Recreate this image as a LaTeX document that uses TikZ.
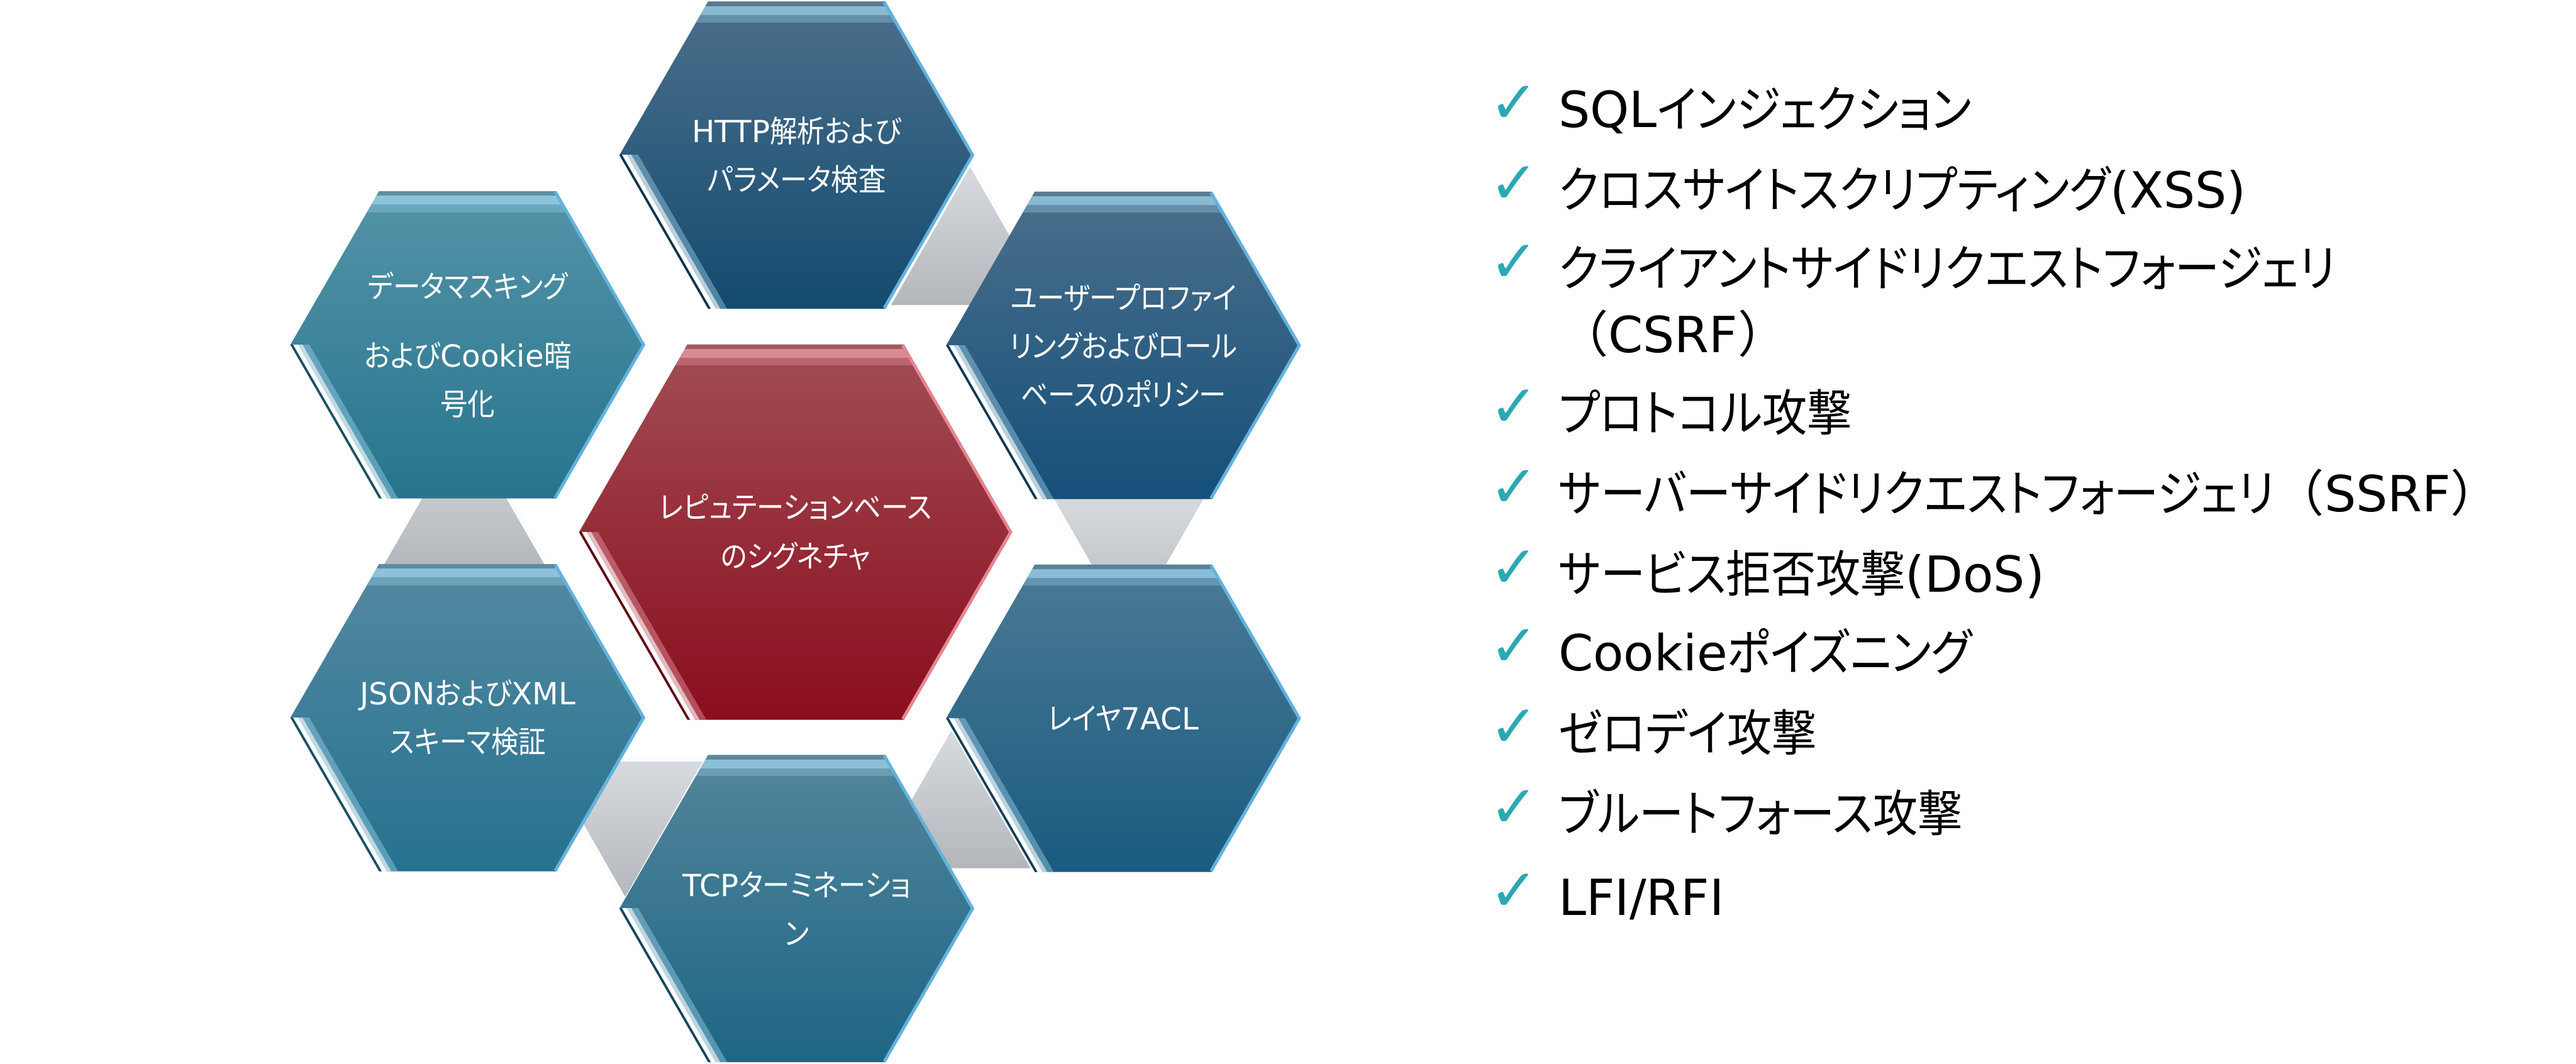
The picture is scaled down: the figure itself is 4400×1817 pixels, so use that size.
\documentclass[tikz,border=0pt]{standalone}
\usepackage{fontspec}
\usetikzlibrary{calc}
\setmainfont{DejaVu Sans}
\newfontfamily\jp[RawFeature=+palt,FakeStretch=0.9]{Noto Sans CJK JP}
\newfontfamily\jpw{Noto Sans CJK JP}
\newcommand\J[1]{{\jp #1}}
\newcommand\JW[1]{{\jpw #1}}
\definecolor{httpT}{HTML}{4C6F8B}\definecolor{httpB}{HTML}{134B6F}
\definecolor{userT}{HTML}{4B6F8B}\definecolor{userB}{HTML}{15507A}
\definecolor{layT}{HTML}{4B7A95}\definecolor{layB}{HTML}{1A5B80}
\definecolor{tcpT}{HTML}{53869B}\definecolor{tcpB}{HTML}{1E6585}
\definecolor{jsonT}{HTML}{5489A1}\definecolor{jsonB}{HTML}{26728F}
\definecolor{dataT}{HTML}{5593A8}\definecolor{dataB}{HTML}{26758D}
\definecolor{redT}{HTML}{A24D55}\definecolor{redB}{HTML}{8A0D1D}
\definecolor{blueHL}{HTML}{A8DCF4}\definecolor{blueEdge}{HTML}{62B3DF}
\definecolor{redHL}{HTML}{F4AAB2}\definecolor{redEdge}{HTML}{E58692}
\definecolor{gryT}{HTML}{D8DBDF}\definecolor{gryB}{HTML}{B3B7BB}
\definecolor{chkteal}{HTML}{2AA9B3}
% #1 cx, #2 cy, #3 R, #4 top colour, #5 bottom colour, #6 highlight, #7 edge colour
\newcommand\hexcell[7]{%
 \pgfmathsetmacro\hA{#1-#3}\pgfmathsetmacro\hB{#1-0.5*#3}%
 \pgfmathsetmacro\hC{#1+0.5*#3}\pgfmathsetmacro\hD{#1+#3}%
 \pgfmathsetmacro\hT{#2-0.8660254*#3}\pgfmathsetmacro\hU{#2+0.8660254*#3}%
 \shade[top color=#4, middle color=#4!30!#5, bottom color=#5]
   (\hA,#2) -- (\hB,\hT) -- (\hC,\hT) -- (\hD,#2) -- (\hC,\hU) -- (\hB,\hU) -- cycle;
 \begin{scope}
  \clip (\hA,#2) -- (\hB,\hT) -- (\hC,\hT) -- (\hD,#2) -- (\hC,\hU) -- (\hB,\hU) -- cycle;
  \draw[#6, opacity=.30, line width=72] (\hA,\hT) -- (\hD,\hT);
  \draw[#6, opacity=.55, line width=46] (\hA,\hT) -- (\hD,\hT);
  \draw[#4!75!black, opacity=.6, line width=16] (\hA,\hT) -- (\hD,\hT);
  \draw[#7, line width=10] (\hC,\hT) -- (\hD,#2) -- (\hC,\hU);
  \begin{scope}
   \clip (\hA,#2) rectangle (\hD,\hU);
   \draw[#6, opacity=.4, line width=56] ($(\hA,#2)!-0.2!(\hB,\hU)$) -- ($(\hA,#2)!1.2!(\hB,\hU)$);
   \draw[white, opacity=.6, line width=36] ($(\hA,#2)!-0.2!(\hB,\hU)$) -- ($(\hA,#2)!1.2!(\hB,\hU)$);
   \draw[white, line width=22] ($(\hA,#2)!-0.2!(\hB,\hU)$) -- ($(\hA,#2)!1.2!(\hB,\hU)$);
   \draw[#5!70!black, line width=8] ($(\hA,#2)!-0.2!(\hB,\hU)$) -- ($(\hA,#2)!1.2!(\hB,\hU)$);
  \end{scope}
 \end{scope}}
\tikzset{
 graytri/.style={top color=gryT, bottom color=gryB, draw=none},
 hextext/.style={text=white, align=center, inner sep=0pt, font=\fontsize{52}{83}\selectfont},
 listtext/.style={anchor=base west, inner sep=0pt, text=black, font=\fontsize{85}{100}\selectfont},
 chkmark/.style={text=chkteal, inner sep=0pt, font=\fontsize{100}{100}\selectfont}
}
\begin{document}
\begin{tikzpicture}[x=1pt,y=-1pt]
\useasboundingbox (0,0) rectangle (4400,1817);
\fill[white] (0,0) rectangle (4400,1817);
% grey connecting triangles
\shade[graytri] (1660,280) -- (1798,521) -- (1522,521) -- cycle;
\begin{scope}\clip (1660,280) -- (1798,521) -- (1522,521) -- cycle;
 \draw[white, line width=10] (1660,280) -- (1798,521);\end{scope}
\shade[graytri] (1787,839) -- (2063,839) -- (1925,1080) -- cycle;
\begin{scope}\clip (1787,839) -- (2063,839) -- (1925,1080) -- cycle;
 \draw[white, line width=10] (1787,839) -- (1925,1080);\end{scope}
\shade[graytri] (1622,1243) -- (1760,1483) -- (1484,1483) -- cycle;
\begin{scope}\clip (1622,1243) -- (1760,1483) -- (1484,1483) -- cycle;
 \draw[white, line width=10] (1622,1243) -- (1484,1483);\end{scope}
\shade[graytri] (927,1296) -- (1203,1296) -- (1065,1537) -- cycle;
\begin{scope}\clip (927,1296) -- (1203,1296) -- (1065,1537) -- cycle;
 \draw[white, line width=10] (927,1296) -- (1065,1537);
 \draw[white, line width=10] (927,1296) -- (1203,1296);\end{scope}
\shade[graytri] (796,722) -- (938,968) -- (654,968) -- cycle;
\begin{scope}\clip (796,722) -- (938,968) -- (654,968) -- cycle;
 \draw[white, line width=10] (796,722) -- (938,968);\end{scope}
% hexagons
\hexcell{1361}{265}{303}{httpT}{httpB}{blueHL}{blueEdge}
\hexcell{1919}{590}{303}{userT}{userB}{blueHL}{blueEdge}
\hexcell{1919}{1227}{303}{layT}{layB}{blueHL}{blueEdge}
\hexcell{1361}{1552}{303}{tcpT}{tcpB}{blueHL}{blueEdge}
\hexcell{799}{1226}{303}{jsonT}{jsonB}{blueHL}{blueEdge}
\hexcell{799}{589}{303}{dataT}{dataB}{blueHL}{blueEdge}
\hexcell{1359}{909}{370}{redT}{redB}{redHL}{redEdge}
% hexagon texts
\node[hextext] (http) at (1361,265) {HTTP\J{解析および}\\\J{パラメータ検査}};
\node[hextext] (user) at (1919,590) {\J{ユーザープロファイ}\\\J{リングおよびロール}\\\J{ベースのポリシー}};
\node[hextext] (layer) at (1919,1227) {\J{レイヤ}7ACL};
\node[hextext] (tcp) at (1361,1552) {TCP\J{ターミネーショ}\\\J{ン}};
\node[hextext] (json) at (799,1226) {JSON\J{および}XML\\\J{スキーマ検証}};
\node[hextext] (data) at (799,589) {\J{データマスキング}\\[35pt]\J{および}Cookie\J{暗}\\\J{号化}};
\node[hextext] (rep) at (1359,909) {\J{レピュテーションベース}\\\J{のシグネチャ}};
% check list
\node[chkmark] (c1) at (2586,178) {✓};
\node[listtext] (l1) at (2662,217) {SQL\J{インジェクション}};
\node[chkmark] (c2) at (2586,316) {✓};
\node[listtext] (l2) at (2662,355) {\J{クロスサイトスクリプティング}(XSS)};
\node[chkmark] (c3) at (2586,450) {✓};
\node[listtext] (l3) at (2662,489) {\J{クライアントサイドリクエストフォージェリ}};
\node[listtext] (l3b) at (2662,602) {\JW{（}CSRF\JW{）}};
\node[chkmark] (c4) at (2586,697) {✓};
\node[listtext] (l4) at (2662,736) {\J{プロトコル攻撃}};
\node[chkmark] (c5) at (2586,835) {✓};
\node[listtext] (l5) at (2662,874) {\J{サーバーサイドリクエストフォージェリ}\JW{（}SSRF\JW{）}};
\node[chkmark] (c6) at (2586,972) {✓};
\node[listtext] (l6) at (2662,1011) {\J{サービス拒否攻撃}(DoS)};
\node[chkmark] (c7) at (2586,1107) {✓};
\node[listtext] (l7) at (2662,1146) {Cookie\J{ポイズニング}};
\node[chkmark] (c8) at (2586,1244) {✓};
\node[listtext] (l8) at (2662,1283) {\J{ゼロデイ攻撃}};
\node[chkmark] (c9) at (2586,1382) {✓};
\node[listtext] (l9) at (2662,1421) {\J{ブルートフォース攻撃}};
\node[chkmark] (c10) at (2586,1525) {✓};
\node[listtext] (l10) at (2662,1564) {LFI/RFI};
\end{tikzpicture}
\end{document}
